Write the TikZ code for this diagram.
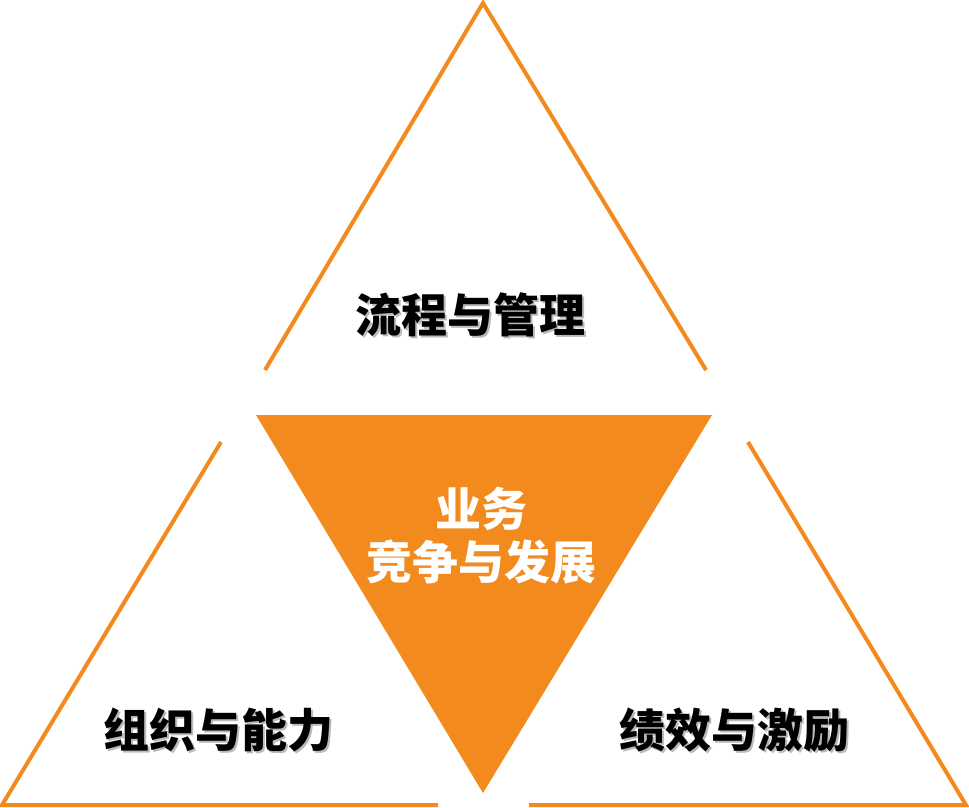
\documentclass[tikz,border=0pt]{standalone}
\usepackage{fontspec}
\newfontfamily\cjk{Noto Sans CJK SC}
\definecolor{org}{HTML}{F28A1E}
\begin{document}
\begin{tikzpicture}[x=1pt,y=1pt,
  edge/.style={draw=org,line width=4pt,line cap=butt},
  lbl/.style={font=\cjk\bfseries\fontsize{46}{54}\selectfont,text=black,inner sep=0pt},
  shd/.style={font=\cjk\bfseries\fontsize{46}{54}\selectfont,text=black!45,inner sep=0pt,opacity=0.6},
  mid/.style={font=\cjk\bfseries\fontsize{46}{54}\selectfont,text=white,inner sep=0pt,align=center}]
\useasboundingbox (0,0) rectangle (969,-808);
% top triangle
\coordinate (tA) at (483,-3);
\coordinate (tL) at (265,-370);
\coordinate (tR) at (706,-370);
\draw[edge,line join=miter] (tL) -- (tA) -- (tR);
% left triangle
\coordinate (lT) at (221,-442);
\coordinate (lB) at (2,-805);
\coordinate (lE) at (438,-805);
\draw[edge,line join=miter] (lT) -- (lB) -- (lE);
% right triangle
\coordinate (rT) at (748,-442);
\coordinate (rB) at (966,-805);
\coordinate (rE) at (529,-805);
\draw[edge,line join=miter] (rT) -- (rB) -- (rE);
% centre
\coordinate (cL) at (256,-415);
\coordinate (cR) at (712,-415);
\coordinate (cB) at (483,-793);
\fill[org] (cL) -- (cR) -- (cB) -- cycle;
% labels
\node[shd] (s1) at (472,-317) {流程与管理};
\node[lbl] (t1) at (470,-315) {流程与管理};
\node[shd] (s2) at (220,-732) {组织与能力};
\node[lbl] (t2) at (218,-730) {组织与能力};
\node[shd] (s3) at (736,-732) {绩效与激励};
\node[lbl] (t3) at (734,-730) {绩效与激励};
\node[mid] (m1) at (481,-509) {业务};
\node[mid] (m2) at (481,-562) {竞争与发展};
\end{tikzpicture}
\end{document}
